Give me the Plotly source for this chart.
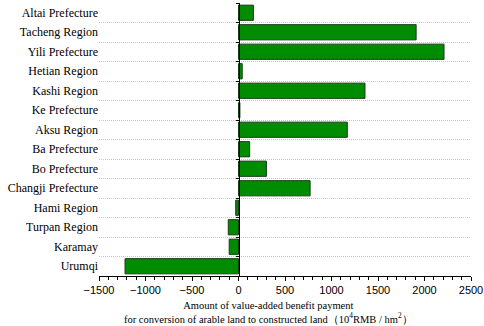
import plotly.graph_objects as go

categories = ["Urumqi", "Karamay", "Turpan Region", "Hami Region", "Changji Prefecture",
              "Bo Prefecture", "Ba Prefecture", "Aksu Region", "Ke Prefecture",
              "Kashi Region", "Hetian Region", "Yili Prefecture", "Tacheng Region",
              "Altai Prefecture"]
values = [-1220, -100, -110, -30, 770, 300, 120, 1170, 15, 1360, 40, 2210, 1910, 160]
x_ticks = [-1500, -1000, -500, 0, 500, 1000, 1500, 2000, 2500]

idx = list(range(len(categories)))
bounds = [i + 0.5 for i in idx[:-1]]
xmin, xmax = -1500, 2500
zero_pos = (0 - xmin) / (xmax - xmin)

fig = go.Figure()
fig.add_trace(go.Bar(
    y=idx, x=values, orientation="h",
    marker=dict(color="#008C00", line=dict(color="#1a3a1a", width=1)),
    width=0.78, showlegend=False, hoverinfo="skip"))
# invisible trace to anchor the zero-position axis
fig.add_trace(go.Scatter(x=[0], y=[0], yaxis="y2", mode="markers",
                         marker=dict(opacity=0), showlegend=False, hoverinfo="skip"))

fig.update_layout(
    width=484, height=326,
    margin=dict(l=99, r=13, t=3, b=50),
    paper_bgcolor="white", plot_bgcolor="white",
    font=dict(family="Liberation Serif", color="#000"),
    xaxis=dict(range=[xmin, xmax], tickvals=x_ticks, automargin=False,
               ticktext=[str(v).replace("-", "\u2212") for v in x_ticks],
               showgrid=False, zeroline=False,
               showline=True, linecolor="#000", linewidth=1,
               ticks="outside", ticklen=4, tickcolor="#000",
               minor=dict(dtick=100, ticks="outside", ticklen=3, tickcolor="#000", showgrid=False),
               tickfont=dict(family="Liberation Sans", size=11, color="#000")),
    yaxis=dict(range=[-0.5, len(categories) - 0.5], tickvals=idx, ticktext=categories,
               automargin=False, showgrid=False, zeroline=False, showline=False, ticks="",
               tickfont=dict(family="Liberation Serif", size=12, color="#000")),
    yaxis2=dict(range=[-0.5, len(categories) - 0.5], overlaying="y", anchor="free",
                position=zero_pos, side="left", automargin=False,
                tickvals=[-0.5] + bounds + [len(categories) - 0.5],
                showticklabels=False, showline=True, linecolor="#000", linewidth=1,
                ticks="outside", ticklen=3, tickcolor="#000",
                showgrid=True, gridcolor="#c8c8c8", griddash="1px,1px", gridwidth=1,
                zeroline=False),
    annotations=[dict(
        text="Amount of value-added benefit payment<br>for conversion of arable land to constructed land（10<sup>4</sup>RMB / hm<sup>2</sup>）",
        xref="paper", yref="paper", x=0.455, y=-0.08, xanchor="center", yanchor="top",
        showarrow=False, align="center",
        font=dict(family="Liberation Serif", size=10.5, color="#000"))],
)

fig.write_html("out.html", config={"displayModeBar": False},
               post_script="document.body.style.margin='0';document.body.style.padding='0';")
